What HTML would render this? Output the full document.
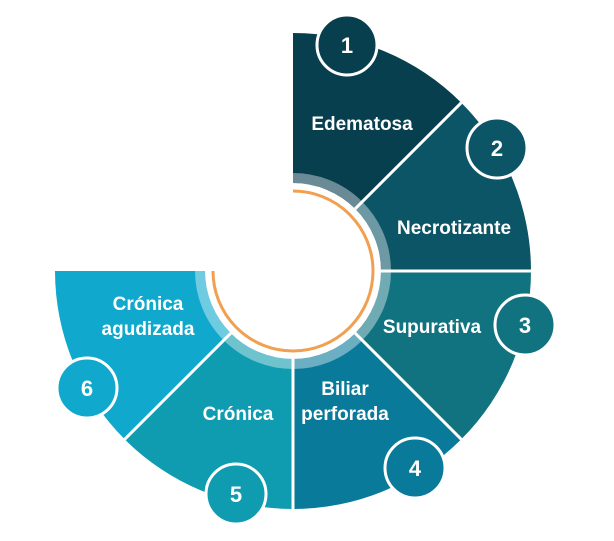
<!DOCTYPE html>
<html><head><meta charset="utf-8"><style>
html,body{margin:0;padding:0;background:#fff;}
svg{display:block}
text{font-family:"Liberation Sans",Arial,sans-serif;font-weight:bold;fill:#fff}
</style></head><body>
<svg width="614" height="541" viewBox="0 0 614 541">
<g stroke="none">
<path d="M293 183 L293 33 A238 238 0 0 1 461.3 102.7 L355.2 208.8 A88 88 0 0 0 293 183Z" fill="#083f4f"/>
<path d="M355.2 208.8 L461.3 102.7 A238 238 0 0 1 531 271 L381 271 A88 88 0 0 0 355.2 208.8Z" fill="#0b5566"/>
<path d="M381 271 L531 271 A238 238 0 0 1 461.3 439.3 L355.2 333.2 A88 88 0 0 0 381 271Z" fill="#127380"/>
<path d="M355.2 333.2 L461.3 439.3 A238 238 0 0 1 293 509 L293 359 A88 88 0 0 0 355.2 333.2Z" fill="#0a7a9a"/>
<path d="M293 359 L293 509 A238 238 0 0 1 124.7 439.3 L230.8 333.2 A88 88 0 0 0 293 359Z" fill="#0f9bb0"/>
<path d="M230.8 333.2 L124.7 439.3 A238 238 0 0 1 55 271 L205 271 A88 88 0 0 0 230.8 333.2Z" fill="#10a8cc"/>
</g>
<path d="M293 178 A93 93 0 1 1 200 271" fill="none" stroke="#fff" stroke-opacity="0.4" stroke-width="10"/>
<g stroke="#fff" stroke-width="3">
<line x1="355.2" y1="208.8" x2="461.3" y2="102.7"/>
<line x1="381" y1="271" x2="531" y2="271"/>
<line x1="355.2" y1="333.2" x2="461.3" y2="439.3"/>
<line x1="293" y1="359" x2="293" y2="509"/>
<line x1="230.8" y1="333.2" x2="124.7" y2="439.3"/>
</g>
<path d="M293 191 A80 80 0 1 1 213 271" fill="none" stroke="#f0a050" stroke-width="3"/>
<g font-size="19" text-anchor="middle">
<text x="362" y="130">Edematosa</text>
<text x="454" y="234">Necrotizante</text>
<text x="432" y="333">Supurativa</text>
<text x="345" y="395">Biliar</text>
<text x="345" y="420">perforada</text>
<text x="238" y="420">Crónica</text>
<text x="148" y="310">Crónica</text>
<text x="148" y="335">agudizada</text>
</g>
<g stroke="#fff" stroke-width="3">
<circle cx="347" cy="45" r="30" fill="#083f4f"/>
<circle cx="497" cy="148" r="30" fill="#0b5566"/>
<circle cx="525" cy="325" r="30" fill="#127380"/>
<circle cx="415" cy="468" r="30" fill="#0a7a9a"/>
<circle cx="236" cy="494" r="30" fill="#0f9bb0"/>
<circle cx="87" cy="388" r="30" fill="#10a8cc"/>
</g>
<g font-size="22" text-anchor="middle">
<text x="347" y="53">1</text>
<text x="497" y="156">2</text>
<text x="525" y="333">3</text>
<text x="415" y="476">4</text>
<text x="236" y="502">5</text>
<text x="87" y="396">6</text>
</g>
</svg>
</body></html>
